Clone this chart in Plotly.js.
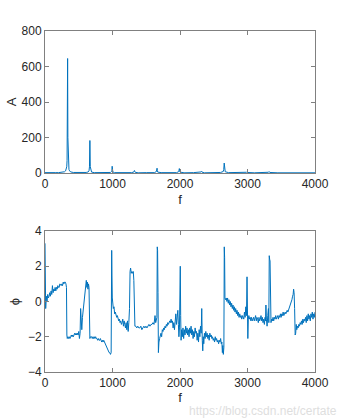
<!DOCTYPE html>
<html>
<head>
<meta charset="utf-8">
<script src="https://cdn.plot.ly/plotly-3.0.1.min.js"></script>
<style>html,body{margin:0;padding:0;background:#fff;}#plot{width:349px;height:420px;}</style>
</head>
<body>
<div id="plot"></div>
<script>
// Amplitude spectrum
const freqA = [0,40,80,120,160,200,240,270,290,305,315,322,327,331,335,339,343,348,355,365,380,420,480,560,610,640,652,659,665,671,678,690,730,820,900,970,985,991,995,999,1005,1030,1150,1280,1315,1320,1325,1330,1336,1380,1500,1620,1650,1656,1660,1664,1670,1720,1850,1950,1982,1986,1990,1994,2000,2060,2200,2300,2314,2320,2326,2360,2500,2600,2640,2648,2655,2662,2670,2720,2880,2975,2985,2990,2995,3100,3250,3310,3320,3330,3450,3640,3650,3660,3800,4000];
const ampA  = [2,1,2,1,2,2,3,4,7,12,20,35,70,200,645,200,70,35,20,12,6,3,2,2,3,6,12,35,183,35,12,5,2,1,2,3,8,15,38,15,6,2,1,2,5,9,14,9,4,1,2,2,8,15,27,15,5,2,1,2,8,14,25,14,5,1,2,3,6,9,5,1,2,3,8,20,56,20,7,2,1,2,4,5,3,1,1,4,8,3,1,2,3,1,1,1];

// Phase spectrum
const freqP = [0,5,10,20,30,40,50,60,70,80,90,100,110,120,130,140,150,160,170,180,190,200,210,220,230,240,250,260,270,280,290,300,310,318,324,330,340,350,360,370,380,390,400,410,420,430,440,450,460,470,480,490,500,510,520,528,535,545,555,565,575,585,595,605,612,620,628,636,644,652,658,665,675,690,700,710,720,730,740,750,760,770,780,790,800,810,820,830,840,850,860,870,880,890,900,910,920,930,940,950,960,970,980,988,992,997,1002,1012,1022,1032,1042,1052,1062,1072,1082,1092,1102,1112,1122,1132,1142,1152,1162,1172,1182,1192,1202,1212,1222,1232,1242,1252,1260,1268,1278,1288,1298,1308,1316,1323,1332,1345,1360,1375,1390,1405,1420,1435,1450,1465,1480,1495,1510,1525,1540,1555,1570,1585,1600,1615,1630,1640,1650,1658,1663,1668,1674,1680,1688,1698,1708,1718,1728,1738,1748,1758,1768,1778,1788,1798,1808,1818,1828,1838,1848,1858,1868,1878,1888,1898,1908,1918,1928,1938,1948,1958,1968,1976,1984,1992,2004,2010,2016,2024,2034,2044,2054,2064,2074,2084,2094,2104,2114,2124,2134,2144,2154,2164,2174,2184,2194,2204,2214,2224,2234,2244,2254,2264,2274,2284,2294,2304,2314,2322,2330,2337,2345,2352,2362,2372,2382,2392,2402,2412,2422,2432,2442,2452,2462,2472,2482,2492,2502,2512,2522,2532,2542,2552,2562,2572,2582,2592,2602,2612,2620,2628,2634,2642,2650,2656,2661,2666,2675,2685,2695,2705,2715,2725,2735,2745,2755,2765,2775,2785,2795,2805,2815,2825,2835,2845,2855,2865,2875,2885,2895,2905,2915,2925,2935,2945,2955,2965,2975,2985,2993,2999,3005,3012,3020,3030,3040,3050,3060,3070,3080,3090,3100,3110,3120,3130,3140,3150,3160,3170,3180,3190,3200,3210,3220,3230,3240,3250,3260,3267,3273,3280,3290,3300,3310,3316,3322,3328,3334,3340,3348,3358,3368,3378,3388,3398,3408,3418,3428,3438,3448,3458,3468,3478,3488,3498,3508,3518,3528,3538,3548,3558,3568,3578,3588,3598,3608,3618,3628,3638,3648,3658,3668,3676,3683,3690,3698,3706,3714,3722,3730,3740,3750,3760,3770,3780,3790,3800,3810,3820,3830,3840,3850,3860,3870,3880,3890,3900,3910,3920,3930,3940,3950,3960,3970,3980,3990,4000];
const phi = [3.3,0.2,-0.4,0.3,0.0,0.4,0.2,0.3,0.5,0.3,0.6,0.4,0.9,0.5,0.7,0.6,0.8,0.6,0.8,0.7,0.9,0.8,0.8,1.0,0.9,0.9,1.0,0.9,1.1,1.0,1.1,1.1,1.0,0.8,-1.9,-2.1,-2.0,-2.1,-2.0,-2.1,-2.0,-1.9,-2.0,-1.9,-2.0,-1.9,-1.8,-1.9,-1.8,-1.9,-1.8,-1.9,-1.7,-2.1,-1.8,-0.4,-1.3,-1.6,-0.9,-0.5,-0.1,0.3,0.6,0.9,1.2,0.8,1.1,0.7,1.0,0.8,-1.9,-2.1,-2.0,-2.0,-2.1,-2.0,-2.1,-2.0,-2.1,-2.0,-2.1,-2.1,-2.2,-2.1,-2.2,-2.2,-2.1,-2.2,-2.3,-2.2,-2.3,-2.2,-2.3,-2.4,-2.5,-2.6,-2.7,-2.7,-2.8,-2.9,-2.9,-3.0,-2.9,2.9,1.5,0.2,-0.2,-0.4,-0.3,-0.7,-0.6,-0.8,-0.9,-0.8,-1.0,-1.1,-1.0,-1.2,-1.1,-1.3,-1.2,-1.0,-1.4,-1.1,-1.3,-1.5,-1.2,-1.6,-1.1,-1.7,-1.2,-0.4,1.7,1.9,1.6,1.7,1.6,1.7,1.2,-1.3,-1.4,-1.4,-1.5,-1.4,-1.5,-1.5,-1.4,-1.6,-1.5,-1.4,-1.5,-1.4,-1.5,-1.4,-1.3,-1.4,-1.3,-1.3,-1.2,-1.3,-0.8,-1.2,-1.0,-0.9,3.1,2.9,0.5,-2.9,-2.3,-2.1,-2.0,-1.8,-2.0,-1.6,-1.7,-1.5,-1.6,-1.4,-1.5,-1.3,-1.4,-1.2,-1.3,-1.2,-1.1,-1.2,-1.0,-1.2,-1.1,-1.5,-1.2,-1.6,-1.1,-0.7,-1.3,-1.0,-0.5,-1.3,-2.0,-1.5,2.0,-0.8,-2.2,-1.6,-2.0,-1.5,-2.1,-1.6,-1.9,-1.4,-1.8,-1.5,-1.9,-1.6,-2.0,-1.5,-1.8,-1.4,-1.9,-1.6,-2.1,-1.7,-2.0,-1.5,-1.8,-1.7,-2.2,-1.8,-2.3,-1.6,-2.0,-1.4,-1.8,-0.4,-2.2,-2.8,-2.0,-2.4,-1.8,-2.1,-1.7,-2.0,-1.8,-2.1,-1.9,-2.2,-1.8,-2.0,-1.9,-2.1,-2.0,-2.2,-2.1,-2.3,-2.0,-2.2,-2.1,-2.3,-2.2,-2.4,-2.2,-2.3,-2.1,-2.4,-2.3,-2.9,-2.5,-3.0,-2.6,3.1,2.5,0.2,0.1,0.2,0.0,0.2,-0.1,0.1,-0.2,0.0,-0.3,-0.1,-0.4,-0.2,-0.5,-0.3,-0.6,-0.4,-0.7,-0.5,-0.8,-0.6,-0.9,-0.7,-0.9,-0.8,-1.0,-0.8,-0.9,-1.0,-0.6,-0.9,-0.3,-0.8,1.4,-0.5,-2.1,-1.0,-0.8,-1.0,-0.9,-1.1,-0.9,-1.1,-1.0,-0.9,-1.1,-1.0,-0.8,-1.1,-0.9,-1.0,-1.2,-0.9,-1.1,-1.0,-0.8,-1.1,-0.9,-1.2,-1.0,-1.3,-0.9,-1.1,-0.2,-1.0,-1.4,-0.8,-0.4,-1.2,2.6,2.4,2.3,0.5,-1.2,-1.0,-1.1,-0.9,-1.1,-0.9,-1.0,-0.8,-1.0,-0.9,-0.8,-1.0,-0.8,-0.9,-0.7,-0.9,-0.7,-0.8,-0.6,-0.8,-0.7,-0.6,-0.7,-0.6,-0.5,-0.6,-0.5,-0.4,-0.3,-0.2,-0.1,0.1,0.3,0.4,0.7,0.5,-0.4,-1.9,-1.8,-1.3,-1.6,-1.4,-1.5,-1.3,-1.4,-1.2,-1.3,-1.1,-1.3,-1.0,-1.2,-1.0,-1.1,-0.9,-1.2,-0.8,-1.1,-0.7,-1.0,-0.8,-1.1,-0.7,-0.9,-0.6,-1.0,-0.7,-0.9,-0.6,-1.0,-0.7,-1.2,-1.3];

const xTicks = [0,1000,2000,3000,4000];
const ampTicks = [0,200,400,600,800];
const phiTicks = [-4,-2,0,2,4];

const lineColor = '#0072BD';
const axisColor = '#808080';
const font = {family: 'Liberation Sans, Arial, sans-serif', size: 12, color: '#262626'};

function axisBase(extra) {
  return Object.assign({
    showline: true, linecolor: axisColor, linewidth: 1, mirror: 'ticks',
    ticks: 'inside', ticklen: 4, tickcolor: axisColor, tickwidth: 1,
    showgrid: false, zeroline: false, tickfont: font, tickmode: 'array'
  }, extra);
}

const n = Math.min(freqP.length, phi.length);

const traces = [
  {x: freqA, y: ampA, type: 'scatter', mode: 'lines', line: {color: lineColor, width: 1}, xaxis: 'x', yaxis: 'y', hoverinfo: 'skip'},
  {x: freqP.slice(0, n), y: phi.slice(0, n), type: 'scatter', mode: 'lines', line: {color: lineColor, width: 1}, xaxis: 'x2', yaxis: 'y2', hoverinfo: 'skip'}
];

const titleFont = {family: font.family, size: 13, color: '#262626'};

const layout = {
  width: 349, height: 420,
  margin: {l: 45, r: 34, t: 31, b: 48},
  paper_bgcolor: '#ffffff', plot_bgcolor: '#ffffff',
  showlegend: false, font: font,
  xaxis: axisBase({domain: [0, 1], range: [0, 4000], tickvals: xTicks, anchor: 'y',
    title: {text: 'f', font: titleFont, standoff: 4}}),
  yaxis: axisBase({domain: [0.5836, 1], range: [0, 800], tickvals: ampTicks, anchor: 'x',
    title: {text: 'A', font: titleFont, standoff: 2}}),
  xaxis2: axisBase({domain: [0, 1], range: [0, 4000], tickvals: xTicks, anchor: 'y2',
    title: {text: 'f', font: titleFont, standoff: 1}}),
  yaxis2: axisBase({domain: [0, 0.4135], range: [-4, 4], tickvals: phiTicks, anchor: 'x2',
    title: {text: 'ϕ', font: titleFont, standoff: 5}}),
  annotations: [
    {text: 'https://blog.csdn.net/certate', xref: 'paper', yref: 'paper', x: 1.09, y: -0.115,
     xanchor: 'right', yanchor: 'middle', showarrow: false,
     font: {family: font.family, size: 12, color: '#dedede'}}
  ]
};

Plotly.newPlot('plot', traces, layout, {staticPlot: true, displayModeBar: false});
</script>
</body>
</html>
